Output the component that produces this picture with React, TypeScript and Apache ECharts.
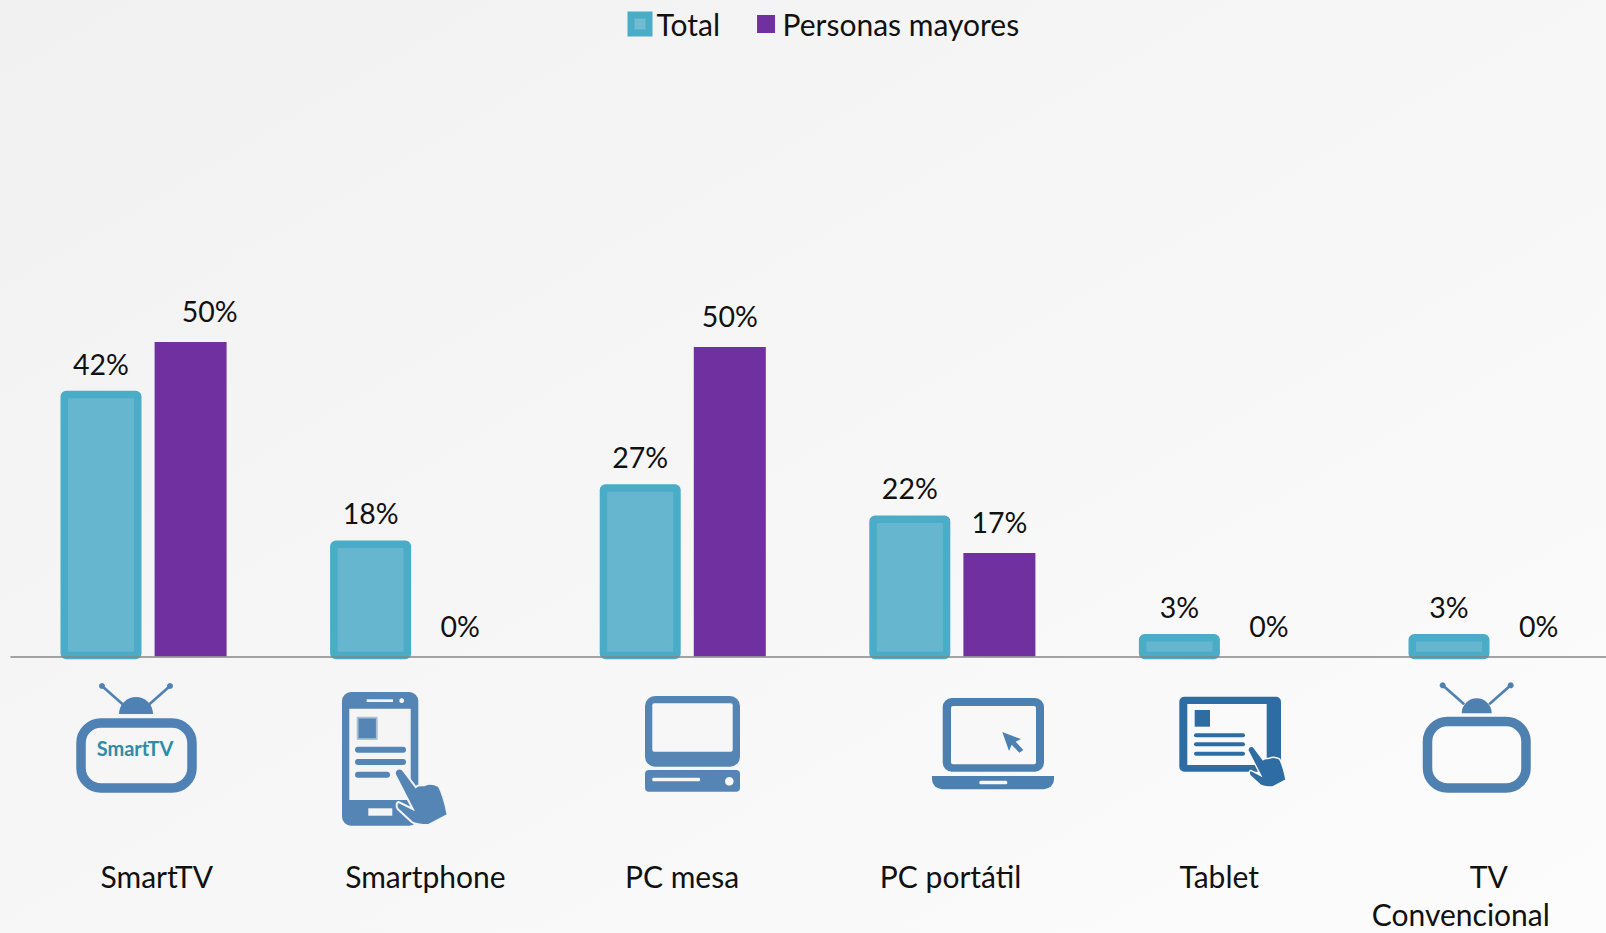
import React, { useEffect, useRef } from "react";
import * as echarts from "echarts";

const categories = ["SmartTV", "Smartphone", "PC mesa", "PC portátil", "Tablet", "TV Convencional"];
const totalValues = [42, 18, 27, 22, 3, 3];
const mayoresValues = [50.4, 0, 49.6, 16.6, 0, 0];
const seriesNames = ["Total", "Personas mayores"];

const FONT = "Lato";
const TEAL_FILL = "#66b6cf";
const TEAL_EDGE = "#4aacc6";
const PURPLE = "#7030a0";
const BLUE = "#5585b5";
const BLUE2 = "#4c80b1";
const BLUE3 = "#2e6da4";

// horizontal nudge of each category label from the band centre, in px
const labelNudge = [11, 10, -3, -4, -5, -33];
const BAR_OFFSET = 44.8;
const LABEL_RISE = 30.8;

const HAND =
  "M0 0 C3 -1 6 0 7 2 L19 18 C22 15 26 17 28 16 C32 14 38 15 42 17 C46 24 49 36 51 46 L32 56 C25 56 19 56 15 53 L1 40 C-1 37 0 33 2 33 L16 40 L-2 5 C-2 3 -1 1 0 0 Z";
echarts.graphic.registerShape("hand", echarts.graphic.extendPath(HAND, {}));

const rect = (x1: number, y1: number, x2: number, y2: number, fill: string, r: any = 0) => ({
  type: "rect",
  shape: { x: x1, y: y1, width: x2 - x1, height: y2 - y1, r },
  style: { fill },
});
const frame = (x1: number, y1: number, x2: number, y2: number, stroke: string, lineWidth: number, r: number) => ({
  type: "rect",
  shape: { x: x1, y: y1, width: x2 - x1, height: y2 - y1, r },
  style: { fill: "transparent", stroke, lineWidth },
});
const dot = (cx: number, cy: number, r: number, fill: string) => ({
  type: "circle",
  shape: { cx, cy, r },
  style: { fill },
});
const seg = (x1: number, y1: number, x2: number, y2: number, stroke: string, lineWidth: number) => ({
  type: "line",
  shape: { x1, y1, x2, y2 },
  style: { stroke, lineWidth },
});
const dome = (cx: number, cy: number, rx: number, fill: string) => ({
  type: "sector",
  shape: { cx, cy, r: rx, startAngle: Math.PI, endAngle: 2 * Math.PI },
  style: { fill },
});
const hand = (x: number, y: number, s: number, fill: string, halo: string) => ({
  type: "hand",
  x,
  y,
  scaleX: s,
  scaleY: s,
  style: { fill, stroke: halo, lineWidth: 2 },
});

const tvIcon = (left: number, top: number, right: number, bottom: number, cx: number, domeY: number, domeR: number, color: string) => [
  frame(left, top, right, bottom, color, 9.5, 20),
  dome(cx, domeY, domeR, color),
  seg(cx - 12.5, domeY - 9, cx - 34, domeY - 28, color, 2.6),
  seg(cx + 12.5, domeY - 9, cx + 34, domeY - 28, color, 2.6),
  dot(cx - 34, domeY - 28, 3, color),
  dot(cx + 34, domeY - 28, 3, color),
];

const iconElements: any[] = [
  ...tvIcon(81, 723, 192, 788, 136, 714, 17, "#4f81b4"),
  {
    type: "text",
    x: 135,
    y: 748,
    style: { text: "SmartTV", fill: "#2e8ca8", font: `bold 20px ${FONT}`, align: "center", verticalAlign: "middle" },
  },
  // smartphone
  rect(342, 692, 418.3, 825.7, BLUE, 9),
  rect(349.3, 708.7, 410.7, 800, "#f5f5f5"),
  rect(366.7, 699.3, 393, 702, "#f5f5f5"),
  dot(401.7, 700.7, 2.4, "#f5f5f5"),
  rect(356.7, 716.7, 377.7, 740, "#a9c0d8", 1),
  rect(358.5, 718.5, 375.9, 738.2, BLUE),
  rect(355, 746.7, 406, 752.7, BLUE, 3),
  rect(355, 759, 406, 765, BLUE, 3),
  rect(355, 771.7, 390, 777.7, BLUE, 3),
  rect(368.3, 808.3, 392.3, 815.7, "#f5f5f5"),
  hand(396.7, 769, 1, BLUE, "#f5f5f5"),
  // PC mesa
  rect(645, 696, 740, 766.7, BLUE, 10),
  rect(652.3, 703.3, 732.7, 751.7, "#f7f7f7", 2),
  rect(645, 770, 740, 791.7, BLUE, 4),
  rect(652.3, 777.7, 700, 781.3, "#f7f7f7", 1),
  dot(729.3, 781.3, 4.3, "#f7f7f7"),
  // PC portátil
  rect(942.7, 698, 1044, 771.7, BLUE2, 9),
  rect(951, 706, 1036, 764.3, "#f8f8f8", 2),
  rect(932, 776, 1054, 789.3, BLUE2, [0, 0, 10, 10]),
  rect(979.3, 780.7, 1007.3, 784.3, "#f8f8f8", 1.5),
  {
    type: "polygon",
    shape: {
      points: [
        [1002.3, 732],
        [1021, 739],
        [1015.7, 741.7],
        [1023.3, 750],
        [1019.3, 752.7],
        [1011.7, 744.7],
        [1009, 751],
      ],
    },
    style: { fill: BLUE2 },
  },
  // tablet
  rect(1179.3, 696.7, 1281, 771.7, BLUE3, 5),
  rect(1187.3, 704, 1266.7, 765, "#fafafa"),
  rect(1194.7, 710, 1210, 726.7, BLUE3),
  rect(1194, 733.3, 1245, 737.3, BLUE3, 2),
  rect(1194, 742.3, 1245, 746.3, BLUE3, 2),
  rect(1194, 751.7, 1245, 755.7, BLUE3, 2),
  hand(1249.3, 746.7, 0.72, BLUE3, "#fafafa"),
  // TV convencional
  ...tvIcon(1427.5, 721.5, 1526, 788, 1476.7, 713.3, 15, "#4f81b0"),
];

const padFor = (nudge: number) => (nudge >= 0 ? [0, 0, 0, 2 * nudge] : [0, -2 * nudge, 0, 0]);

const barRenderer =
  (offset: number, width: number, style: any, sink: number, labelShift: (i: number) => number) =>
  (_params: any, api: any) => {
    const i = api.value(0);
    const v = api.value(1);
    const top = api.coord([i, v]);
    const base = api.coord([i, 0]);
    const cx = top[0] + offset;
    return {
      type: "group",
      children: [
        {
          type: "rect",
          shape: { x: cx - width / 2, y: top[1], width, height: base[1] - top[1] - sink, r: style.r || 0 },
          style: { fill: style.fill, stroke: style.stroke, lineWidth: style.lineWidth || 0 },
          invisible: v === 0,
        },
        {
          type: "text",
          x: cx + labelShift(i),
          y: top[1] - LABEL_RISE,
          style: {
            text: `${Math.round(v)}%`,
            fill: "#111",
            font: `28.5px ${FONT}`,
            align: "center",
            verticalAlign: "middle",
          },
        },
      ],
    };
  };

function App() {
  const ref = useRef<HTMLDivElement>(null);
  useEffect(() => {
    document.body.style.margin = "0";
    const chart = echarts.init(ref.current!, null, { renderer: "svg" });
    const rich: any = { tv: { fontFamily: FONT, fontSize: 30, color: "#111", lineHeight: 38, padding: [0, 10, 0, 0] } };
    categories.forEach((_, i) => {
      rich["c" + i] = { fontFamily: FONT, fontSize: 30, color: "#111", lineHeight: 38, padding: padFor(labelNudge[i]) };
    });
    chart.setOption({
      animation: false,
      backgroundColor: {
        type: "linear",
        x: 0,
        y: 0,
        x2: 1,
        y2: 1,
        colorStops: [
          { offset: 0, color: "#f1f1f1" },
          { offset: 1, color: "#fcfcfc" },
        ],
      },
      legend: {
        left: 622.5,
        top: 4,
        itemWidth: 18,
        itemHeight: 18,
        itemGap: 37,
        selectedMode: false,
        textStyle: { fontFamily: FONT, fontSize: 30, color: "#111", padding: [0, 0, 0, 2.5] },
        data: [
          {
            name: seriesNames[0],
            icon: "rect",
            itemStyle: { color: "#72bcd3", borderColor: TEAL_EDGE, borderWidth: 7 },
          },
          { name: seriesNames[1], icon: "rect", itemStyle: { color: PURPLE, borderWidth: 0 } },
        ],
      },
      grid: { left: 11, top: 32.6, width: 1617.6, height: 623.9, containLabel: false, outerBoundsMode: "none" },
      xAxis: {
        type: "category",
        data: categories,
        z: 5,
        axisLine: { lineStyle: { color: "#868686", width: 1.5 } },
        axisTick: { show: false },
        axisLabel: {
          interval: 0,
          margin: 200,
          hideOverlap: false,
          formatter: (v: string) => {
            const i = categories.indexOf(v);
            if (v === "TV Convencional") return `{tv|TV}\n{c${i}|Convencional}`;
            return `{c${i}|${v}}`;
          },
          rich,
        },
      },
      yAxis: { type: "value", min: 0, max: 100, show: false, splitLine: { show: false } },
      series: [
        {
          name: seriesNames[0],
          type: "custom",
          clip: false,
          encode: { x: 0, y: 1 },
          data: totalValues.map((v, i) => [i, v]),
          itemStyle: { color: TEAL_EDGE },
          renderItem: barRenderer(
            -BAR_OFFSET,
            73.5,
            { fill: TEAL_FILL, stroke: TEAL_EDGE, lineWidth: 7.5, r: 2 },
            1,
            () => 0
          ),
        },
        {
          name: seriesNames[1],
          type: "custom",
          clip: false,
          encode: { x: 0, y: 1 },
          data: mayoresValues.map((v, i) => [i, v]),
          itemStyle: { color: PURPLE },
          renderItem: barRenderer(BAR_OFFSET, 72, { fill: PURPLE }, 0, (i) => (i === 0 ? 19 : 0)),
        },
      ],
      graphic: { elements: iconElements.map((e) => ({ ...e, silent: true })) },
    });
    return () => chart.dispose();
  }, []);
  return <div ref={ref} style={{ width: 1606, height: 933 }} />;
}

export default App;
